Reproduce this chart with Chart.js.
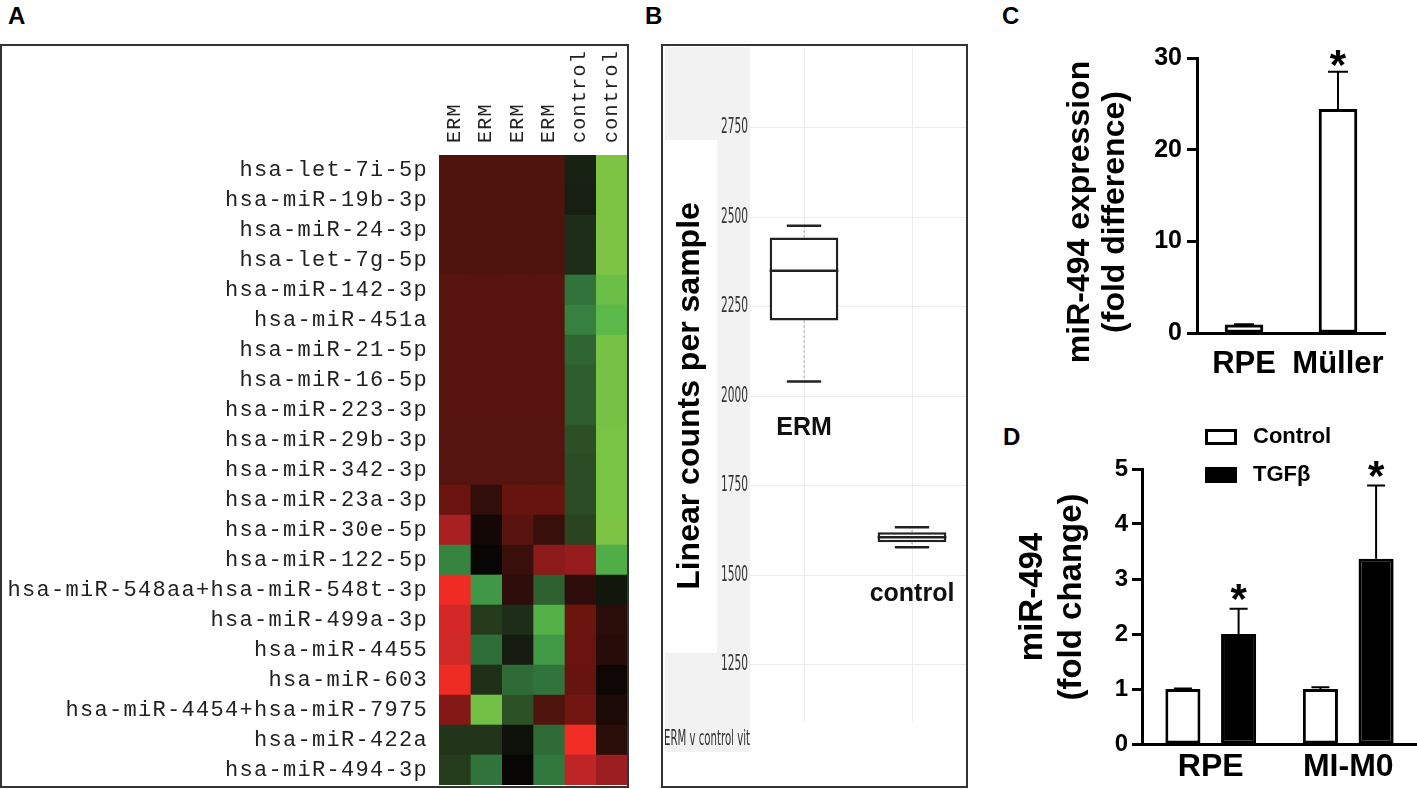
<!DOCTYPE html>
<html>
<head>
<title>miR-494 in ERM</title>
<script src="https://cdn.jsdelivr.net/npm/chart.js"></script>
<style>
  body { margin:0; background:#fff; width:1417px; height:789px; position:relative; overflow:hidden;
         font-family:"Liberation Sans", Arial, sans-serif; }
  .tag { position:absolute; font-weight:bold; font-size:24px; line-height:24px; color:#000; }
  .panel { position:absolute; }
  .boxed { outline:2px solid #333; }
</style>
</head>
<body>
<div class="tag" style="left:8px;top:4px">A</div>
<div class="tag" style="left:645px;top:4px">B</div>
<div class="tag" style="left:1002px;top:4px">C</div>
<div class="tag" style="left:1003px;top:425px">D</div>

<div class="panel boxed" style="left:2px;top:46px;width:625px;height:740px"><canvas id="heat"></canvas></div>
<div class="panel boxed" style="left:663px;top:46px;width:303px;height:740px"><canvas id="counts"></canvas></div>
<div class="panel" style="left:1000px;top:0;width:417px;height:400px"><canvas id="cells"></canvas></div>
<div class="panel" style="left:1000px;top:400px;width:417px;height:389px"><canvas id="tgf"></canvas></div>

<script>
// ---- A: heatmap ----
const samples = ['ERM', 'ERM', 'ERM', 'ERM', 'control', 'control'];
const mirnas = [
  'hsa-let-7i-5p', 'hsa-miR-19b-3p', 'hsa-miR-24-3p', 'hsa-let-7g-5p', 'hsa-miR-142-3p',
  'hsa-miR-451a', 'hsa-miR-21-5p', 'hsa-miR-16-5p', 'hsa-miR-223-3p', 'hsa-miR-29b-3p',
  'hsa-miR-342-3p', 'hsa-miR-23a-3p', 'hsa-miR-30e-5p', 'hsa-miR-122-5p',
  'hsa-miR-548aa+hsa-miR-548t-3p', 'hsa-miR-499a-3p', 'hsa-miR-4455', 'hsa-miR-603',
  'hsa-miR-4454+hsa-miR-7975', 'hsa-miR-422a', 'hsa-miR-494-3p'
];
// relative expression per row (ERM x4, control x2); + = red, - = green
const heat = [
  [0.29, 0.29, 0.29, 0.29, -0.10, -1.00],
  [0.29, 0.29, 0.29, 0.29, -0.09, -1.00],
  [0.29, 0.29, 0.29, 0.29, -0.16, -1.00],
  [0.29, 0.29, 0.29, 0.29, -0.16, -1.00],
  [0.32, 0.32, 0.32, 0.32, -0.50, -0.92],
  [0.32, 0.32, 0.32, 0.32, -0.56, -0.85],
  [0.32, 0.32, 0.32, 0.32, -0.43, -0.97],
  [0.32, 0.32, 0.32, 0.32, -0.40, -0.97],
  [0.32, 0.32, 0.32, 0.32, -0.40, -0.97],
  [0.31, 0.31, 0.31, 0.31, -0.33, -0.98],
  [0.31, 0.31, 0.31, 0.31, -0.32, -0.98],
  [0.39, 0.17, 0.385, 0.385, -0.32, -0.98],
  [0.68, 0.05, 0.33, 0.20, -0.28, -0.99],
  [-0.57, 0.00, 0.20, 0.55, 0.60, -0.78],
  [0.99, -0.66, 0.16, -0.41, 0.16, -0.06],
  [0.87, -0.23, -0.16, -0.80, 0.40, 0.14],
  [0.85, -0.47, -0.08, -0.67, 0.39, 0.13],
  [0.99, -0.17, -0.46, -0.50, 0.385, 0.03],
  [0.51, -0.95, -0.34, 0.29, 0.42, 0.08],
  [-0.20, -0.20, -0.04, -0.46, 1.00, 0.14],
  [-0.24, -0.50, 0.00, -0.52, 0.78, 0.63]
];

// ---- B: box plot of linear counts ----
const groups = ['ERM', 'control'];
const countMin = [2041, 1578];
const countQ1 = [2211, 1592];
const countMedian = [2350, 1606];
const countQ3 = [2443, 1620];
const countMax = [2476, 1634];
const countTicks = [1250, 1500, 1750, 2000, 2250, 2500, 2750];

// ---- C: RPE vs Muller ----
const cellTypes = ['RPE', 'Müller'];
const foldDiff = [0.9, 24.4];
const foldDiffErr = [0.05, 4.1];
const foldDiffSig = [false, true];

// ---- D: TGFb treatment ----
const cultures = ['RPE', 'MI-M0'];
const controlFold = [1.0, 1.0];
const controlErr = [0.01, 0.03];
const tgfFold = [2.0, 3.37];
const tgfErr = [0.46, 1.33];
const tgfSig = [true, true];

Chart.defaults.font.family = "'Liberation Sans', Arial, sans-serif";
Chart.defaults.color = '#000';
Chart.defaults.animation = false;
Chart.defaults.maintainAspectRatio = false;
Chart.defaults.plugins.legend.display = false;
Chart.defaults.plugins.tooltip.enabled = false;

const redStops = [[0, [8, 6, 4]], [0.3, [82, 20, 15]], [0.4, [108, 20, 14]], [0.6, [150, 28, 30]], [0.8, [196, 38, 40]], [1, [240, 44, 36]]];
const greenStops = [[0, [8, 6, 4]], [0.1, [24, 34, 18]], [0.3, [44, 72, 34]], [0.5, [48, 116, 60]], [0.7, [68, 160, 72]], [0.85, [90, 185, 72]], [1, [126, 196, 68]]];

function heatColor(v) {
  const stops = v >= 0 ? redStops : greenStops;
  const a = Math.min(1, Math.abs(v));
  for (let k = 1; k < stops.length; k++) {
    if (a <= stops[k][0]) {
      const [t0, c0] = stops[k - 1], [t1, c1] = stops[k];
      const f = (a - t0) / (t1 - t0);
      const c = c0.map((x, n) => Math.round(x + (c1[n] - x) * f));
      return `rgb(${c[0]},${c[1]},${c[2]})`;
    }
  }
}

// fixed axis size, no extra label padding
const fixSize = (w, h) => s => {
  if (w !== null) s.width = w;
  if (h !== null) s.height = h;
  s.paddingTop = 0; s.paddingBottom = 0; s.paddingLeft = 0; s.paddingRight = 0;
};

const monoSpacing = {
  id: 'monoSpacing',
  beforeDraw(chart) { chart.ctx.letterSpacing = '1.3px'; },
  afterDraw(chart) { chart.ctx.letterSpacing = '0px'; }
};

new Chart(document.getElementById('heat'), {
  type: 'bar',
  data: {
    labels: mirnas,
    datasets: samples.map((s, j) => ({
      label: s,
      data: mirnas.map(() => 1),
      backgroundColor: heat.map(r => heatColor(r[j])),
      borderWidth: 0,
      barPercentage: 1,
      categoryPercentage: 1
    }))
  },
  options: {
    indexAxis: 'y',
    layout: { padding: { top: 0, right: 0, bottom: 1, left: 0 } },
    scales: {
      x: {
        type: 'linear', position: 'top', stacked: true, min: 0, max: 6,
        grid: { display: false, drawTicks: false }, border: { display: false },
        afterBuildTicks: s => { s.ticks = samples.map((_, i) => ({ value: i + 0.5 })); },
        afterFit: fixSize(null, 109),
        ticks: {
          autoSkip: false, minRotation: 90, maxRotation: 90, padding: 12, labelOffset: 24, color: '#222',
          font: { family: "'Liberation Mono', monospace", size: 20 },
          callback: (v, i) => samples[i]
        }
      },
      y: {
        stacked: true,
        grid: { display: false, drawTicks: false }, border: { display: false },
        afterFit: fixSize(437, null),
        ticks: { autoSkip: false, padding: 11, color: '#222', font: { family: "'Liberation Mono', monospace", size: 22 } }
      }
    }
  },
  plugins: [monoSpacing]
});

// box plot parts drawn from the scales
const narrowFont = "21px 'Liberation Sans Narrow', 'DejaVu Sans Condensed', sans-serif";
const boxPlot = {
  id: 'boxPlot',
  beforeDraw(chart) {
    const ctx = chart.ctx, ya = chart.scales.y;
    ctx.save();
    ctx.fillStyle = '#f2f2f2';
    ctx.fillRect(2, 1, ya.right - 2, 705);
    ctx.fillStyle = '#fff';
    ctx.fillRect(2, 94, 52, 513);
    ctx.translate(27, 350);
    ctx.rotate(-Math.PI / 2);
    ctx.font = "bold 32px 'Liberation Sans', Arial, sans-serif";
    ctx.fillStyle = '#000';
    ctx.textAlign = 'center';
    ctx.textBaseline = 'middle';
    ctx.fillText('Linear counts per sample', 0, 0);
    ctx.restore();
    ctx.save();
    ctx.font = narrowFont;
    ctx.fillStyle = '#333';
    ctx.textBaseline = 'middle';
    ctx.fillText('ERM v control vit', 1, 694, 86);
    // condensed tick labels
    ctx.textAlign = 'right';
    ya.ticks.forEach(t => ctx.fillText(String(t.value), ya.right - 2, ya.getPixelForValue(t.value), 27));
    ctx.restore();
  },
  afterDatasetsDraw(chart) {
    const ctx = chart.ctx, ya = chart.scales.y;
    chart.getDatasetMeta(0).data.forEach((bar, i) => {
      const x = bar.x, half = bar.width / 2, cap = bar.width / 4;
      const yMin = ya.getPixelForValue(countMin[i]), yMax = ya.getPixelForValue(countMax[i]);
      const yQ1 = ya.getPixelForValue(countQ1[i]), yQ3 = ya.getPixelForValue(countQ3[i]);
      const yMed = ya.getPixelForValue(countMedian[i]);
      ctx.save();
      ctx.strokeStyle = '#999';
      ctx.lineWidth = 1;
      ctx.setLineDash([2, 3]);
      ctx.beginPath();
      ctx.moveTo(x, yQ1); ctx.lineTo(x, yMin);
      ctx.moveTo(x, yQ3); ctx.lineTo(x, yMax);
      ctx.stroke();
      ctx.setLineDash([]);
      ctx.strokeStyle = '#222';
      ctx.lineWidth = 2.5;
      ctx.beginPath();
      ctx.moveTo(x - half, yMed); ctx.lineTo(x + half, yMed);
      ctx.moveTo(x - cap, yMin); ctx.lineTo(x + cap, yMin);
      ctx.moveTo(x - cap, yMax); ctx.lineTo(x + cap, yMax);
      ctx.stroke();
      ctx.font = "bold 25px 'Liberation Sans', Arial, sans-serif";
      ctx.fillStyle = '#111';
      ctx.textAlign = 'center';
      ctx.textBaseline = 'middle';
      ctx.fillText(groups[i], x, yMin + 47);
      ctx.restore();
    });
  }
};

new Chart(document.getElementById('counts'), {
  type: 'bar',
  data: {
    labels: groups,
    datasets: [{
      data: groups.map((g, i) => [countQ1[i], countQ3[i]]),
      backgroundColor: '#fff', borderColor: '#222', borderWidth: 2.5, borderSkipped: false,
      barPercentage: 0.636, categoryPercentage: 1
    }]
  },
  options: {
    layout: { padding: { top: 1, right: 0, bottom: 0, left: 0 } },
    scales: {
      x: {
        grid: { color: '#ededed', drawTicks: false, offset: false }, border: { display: false },
        ticks: { display: false },
        afterFit: fixSize(null, 64)
      },
      y: {
        min: 1090, max: 2975,
        afterBuildTicks: s => { s.ticks = countTicks.map(v => ({ value: v })); },
        grid: { color: '#ededed', drawTicks: false }, border: { display: false },
        afterFit: fixSize(87, null),
        ticks: { display: false }
      }
    }
  },
  plugins: [boxPlot]
});

// error bars + significance stars
const errorBars = {
  id: 'errorBars',
  afterDatasetsDraw(chart, args, opts) {
    const ctx = chart.ctx, ya = chart.scales.y;
    chart.data.datasets.forEach((ds, di) => {
      chart.getDatasetMeta(di).data.forEach((bar, i) => {
        const top = ya.getPixelForValue(ds.data[i] + ds.err[i]);
        ctx.save();
        ctx.strokeStyle = '#000';
        ctx.lineWidth = 2;
        ctx.beginPath();
        ctx.moveTo(bar.x, bar.y); ctx.lineTo(bar.x, top);
        ctx.moveTo(bar.x - opts.cap, top); ctx.lineTo(bar.x + opts.cap, top);
        ctx.stroke();
        if (ds.sig && ds.sig[i]) {
          ctx.fillStyle = '#000';
          ctx.font = "bold 42px 'Liberation Sans', Arial, sans-serif";
          ctx.textAlign = 'center';
          ctx.textBaseline = 'alphabetic';
          ctx.fillText('*', bar.x, top - opts.gap + 0.575 * 42);
        }
        ctx.restore();
      });
    });
  }
};

const sideTitle = {
  id: 'sideTitle',
  afterDraw(chart, args, opts) {
    const ctx = chart.ctx;
    ctx.save();
    ctx.translate(opts.x, opts.y);
    ctx.rotate(-Math.PI / 2);
    ctx.font = opts.font;
    ctx.fillStyle = '#000';
    ctx.textAlign = 'center';
    ctx.textBaseline = 'middle';
    opts.lines.forEach((t, k) => ctx.fillText(t, 0, k * opts.gap));
    ctx.restore();
  }
};

const legendBoxes = {
  id: 'legendBoxes',
  afterDraw(chart, args, opts) {
    const ctx = chart.ctx;
    chart.data.datasets.forEach((ds, k) => {
      const y = opts.y + k * opts.step;
      ctx.save();
      ctx.fillStyle = ds.backgroundColor;
      ctx.fillRect(opts.x, y - 8, 32, 16);
      ctx.strokeStyle = '#000';
      ctx.lineWidth = 3;
      ctx.strokeRect(opts.x + 1.5, y - 6.5, 29, 13);
      ctx.fillStyle = '#000';
      ctx.font = "bold 22px 'Liberation Sans', Arial, sans-serif";
      ctx.textBaseline = 'middle';
      ctx.fillText(ds.label, opts.x + 48, y);
      ctx.restore();
    });
  }
};

const axisY = (max, step, size, pad, width) => ({
  min: 0, max: max,
  ticks: { stepSize: step, padding: pad, color: '#000', font: { size: size, weight: 'bold' } },
  grid: { drawOnChartArea: false, drawTicks: true, tickLength: 10, tickWidth: 3, color: '#000' },
  border: { display: true, width: 3, color: '#000' },
  afterFit: s => { s.width = width; }
});

const axisX = (size, pad, height) => ({
  grid: { display: false, drawTicks: false },
  border: { display: true, width: 3, color: '#000' },
  ticks: { padding: pad, color: '#000', autoSkip: false, minRotation: 0, maxRotation: 0, font: { size: size, weight: 'bold' } },
  afterFit: s => { s.height = height; }
});

new Chart(document.getElementById('cells'), {
  type: 'bar',
  data: {
    labels: cellTypes,
    datasets: [{
      data: foldDiff, err: foldDiffErr, sig: foldDiffSig,
      backgroundColor: '#fff', borderColor: '#000', borderWidth: 3, borderSkipped: false, barThickness: 38
    }]
  },
  options: {
    layout: { padding: { top: 58, right: 32, bottom: 0, left: 0 } },
    scales: {
      x: axisX(31, 13, 67),
      y: axisY(30, 10, 25, 5, 197)
    },
    plugins: {
      errorBars: { cap: 10, gap: 17 },
      sideTitle: { x: 80, y: 212, gap: 35, lines: ['miR-494 expression', '(fold difference)'], font: "bold 32px 'Liberation Sans', Arial, sans-serif" }
    }
  },
  plugins: [errorBars, sideTitle]
});

new Chart(document.getElementById('tgf'), {
  type: 'bar',
  data: {
    labels: cultures,
    datasets: [
      { label: 'Control', data: controlFold, err: controlErr, backgroundColor: '#fff', borderColor: '#000', borderWidth: 3, borderSkipped: false },
      { label: 'TGFβ', data: tgfFold, err: tgfErr, sig: tgfSig, backgroundColor: '#000', borderColor: '#000', borderWidth: 3, borderSkipped: false }
    ]
  },
  options: {
    datasets: { bar: { categoryPercentage: 0.81, barPercentage: 0.63 } },
    layout: { padding: { top: 69, right: 0, bottom: 0, left: 0 } },
    scales: {
      x: axisX(32, 4, 45),
      y: axisY(5, 1, 24, 4, 142)
    },
    plugins: {
      errorBars: { cap: 9, gap: 20 },
      sideTitle: { x: 33, y: 197, gap: 39, lines: ['miR-494', '(fold change)'], font: "bold 33px 'Liberation Sans', Arial, sans-serif" },
      legendBoxes: { x: 205, y: 37, step: 38 }
    }
  },
  plugins: [errorBars, sideTitle, legendBoxes]
});
</script>
</body>
</html>
